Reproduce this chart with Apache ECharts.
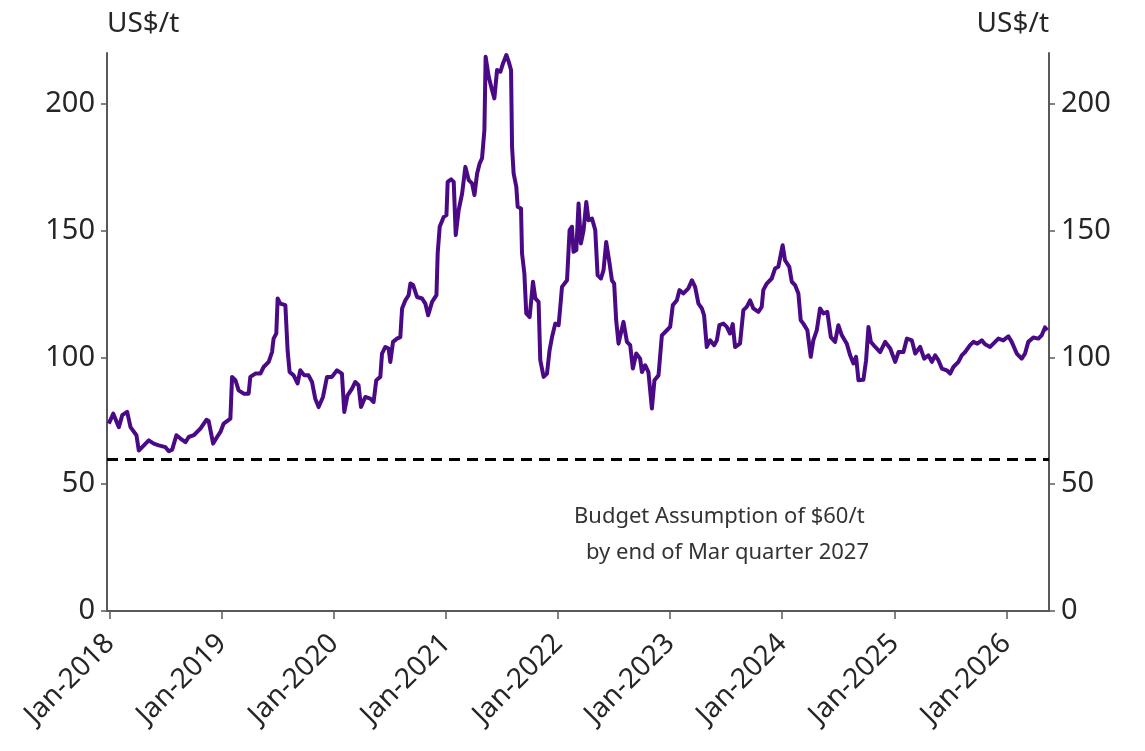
<!DOCTYPE html>
<html>
<head>
<meta charset="utf-8">
<script src="https://cdn.jsdelivr.net/npm/echarts@6/dist/echarts.min.js"></script>
<style>html,body{margin:0;padding:0;background:#fff}#c{width:1145px;height:751px}</style>
</head>
<body>
<div id="c"></div>
<script>
// Dates as decimal years
var dates = [
2017.989,2018.029,2018.079,2018.109,2018.153,2018.183,2018.236,2018.257,2018.287,2018.346,
2018.391,2018.435,2018.495,2018.525,2018.555,2018.593,2018.629,2018.674,2018.703,2018.748,
2018.807,2018.861,2018.881,2018.921,2018.956,2018.986,2019.015,2019.075,2019.090,2019.120,
2019.149,2019.194,2019.238,2019.253,2019.298,2019.343,2019.372,2019.417,2019.447,2019.461,
2019.485,2019.497,2019.521,2019.566,2019.586,2019.604,2019.640,2019.675,2019.699,2019.735,
2019.773,2019.804,2019.833,2019.863,2019.902,2019.938,2019.982,2020.027,2020.071,2020.092,
2020.121,2020.161,2020.190,2020.219,2020.241,2020.279,2020.324,2020.353,2020.377,2020.413,
2020.428,2020.458,2020.487,2020.502,2020.526,2020.562,2020.591,2020.607,2020.636,2020.665,
2020.681,2020.705,2020.740,2020.785,2020.814,2020.839,2020.874,2020.913,2020.924,2020.942,
2020.978,2021.002,2021.013,2021.044,2021.067,2021.085,2021.111,2021.142,2021.171,2021.201,
2021.231,2021.252,2021.276,2021.299,2021.320,2021.341,2021.352,2021.379,2021.409,2021.430,
2021.454,2021.484,2021.508,2021.537,2021.558,2021.579,2021.588,2021.602,2021.626,2021.638,
2021.668,2021.677,2021.698,2021.715,2021.745,2021.775,2021.796,2021.825,2021.840,2021.870,
2021.900,2021.923,2021.945,2021.974,2022.004,2022.019,2022.034,2022.079,2022.102,2022.123,
2022.137,2022.162,2022.182,2022.203,2022.227,2022.251,2022.271,2022.302,2022.331,2022.352,
2022.382,2022.405,2022.429,2022.459,2022.480,2022.500,2022.518,2022.539,2022.583,2022.614,
2022.643,2022.667,2022.697,2022.732,2022.748,2022.777,2022.806,2022.837,2022.860,2022.896,
2022.926,2022.971,2023.000,2023.024,2023.060,2023.083,2023.119,2023.163,2023.194,2023.223,
2023.253,2023.283,2023.303,2023.327,2023.357,2023.393,2023.417,2023.440,2023.476,2023.506,
2023.535,2023.559,2023.580,2023.624,2023.654,2023.684,2023.714,2023.743,2023.788,2023.818,
2023.832,2023.863,2023.907,2023.937,2023.966,2024.005,2024.026,2024.064,2024.086,2024.115,
2024.145,2024.166,2024.189,2024.225,2024.255,2024.278,2024.309,2024.338,2024.368,2024.403,
2024.434,2024.472,2024.501,2024.532,2024.576,2024.606,2024.635,2024.659,2024.680,2024.724,
2024.748,2024.769,2024.790,2024.829,2024.873,2024.918,2024.963,2025.007,2025.037,2025.081,
2025.112,2025.156,2025.186,2025.230,2025.266,2025.304,2025.335,2025.364,2025.393,2025.424,
2025.468,2025.498,2025.527,2025.572,2025.602,2025.632,2025.676,2025.706,2025.741,2025.781,
2025.810,2025.855,2025.884,2025.929,2025.973,2026.018,2026.048,2026.093,2026.137,2026.167,
2026.196,2026.241,2026.286,2026.316,2026.345,2026.366
];
// Price, US$/t
var prices = [
73.9,77.8,72.5,77.2,78.5,72.5,69.3,63.3,64.6,67.3,
66.0,65.3,64.6,63.0,63.6,69.3,68.0,66.6,68.6,69.3,
71.9,75.4,74.9,66.0,68.6,70.6,73.9,75.8,92.3,91.0,
87.0,85.7,85.7,92.3,93.6,93.6,96.2,98.2,102.1,107.4,
109.4,123.2,121.2,120.6,102.8,94.2,92.9,89.7,94.9,92.9,
92.9,90.3,83.7,80.4,84.4,92.3,92.3,94.9,93.6,78.5,
85.0,87.7,90.3,89.0,80.4,84.4,83.7,82.4,91.0,92.3,
101.5,104.1,103.5,98.2,106.1,107.4,108.0,119.3,122.5,124.5,
129.1,128.5,123.8,123.2,121.2,116.6,121.9,124.5,141.0,151.5,
155.4,156.1,169.2,170.2,169.2,148.2,158.0,164.6,175.1,169.9,
168.6,164.0,172.5,176.5,178.5,189.6,218.5,210.7,205.4,202.1,
213.3,212.6,216.0,219.2,216.6,213.3,183.0,172.5,167.2,159.4,
158.7,141.0,133.1,117.3,115.9,129.8,123.2,121.9,98.9,92.3,
93.6,102.8,108.0,113.3,112.7,120.0,127.8,130.4,150.2,151.5,
141.6,142.3,160.7,144.9,150.2,161.3,154.1,154.7,150.2,132.4,
131.1,134.4,145.5,137.0,130.4,129.1,114.6,105.4,114.0,106.1,
104.8,95.6,101.5,99.5,94.2,96.9,94.2,79.8,91.0,92.9,
108.7,110.7,112.0,120.6,122.5,126.5,125.2,127.2,130.4,127.8,
121.2,119.3,116.6,104.1,106.7,104.8,106.7,112.7,113.3,112.0,
109.4,113.1,104.1,105.4,118.6,119.9,122.5,119.3,117.9,119.9,
126.5,129.1,131.1,135.0,135.7,144.2,138.3,135.7,129.8,128.5,
125.2,114.6,113.3,110.7,100.2,106.7,110.7,119.3,117.3,117.9,
108.0,106.1,112.7,108.7,105.4,100.8,97.6,100.2,91.0,91.2,
98.9,112.0,106.1,104.1,102.1,106.1,103.5,98.2,102.1,102.1,
107.4,106.7,101.5,104.1,99.5,100.8,98.2,100.8,98.9,95.6,
94.9,93.6,96.2,98.2,100.8,102.1,104.8,106.1,105.4,106.7,
105.2,104.1,105.4,107.4,106.7,108.3,106.1,101.5,99.5,101.5,
106.1,107.8,107.4,108.7,111.8,110.7
];
var budgetLevel = 60;
var yTicks = [0, 50, 100, 150, 200];
var axisRange = [2017.973, 2026.381];
var unitLabel = 'US$/t';
var noteLines = ['Budget Assumption of $60/t', 'by end of Mar quarter 2027'];
var monthNames = ['Jan','Feb','Mar','Apr','May','Jun','Jul','Aug','Sep','Oct','Nov','Dec'];

function toTs(d) {
  var y = Math.floor(d);
  var a = Date.UTC(y, 0, 1), b = Date.UTC(y + 1, 0, 1);
  return a + (d - y) * (b - a);
}
var seriesData = dates.map(function (d, i) { return [toTs(d), prices[i]]; });

var FONT = 'Noto Sans';
var TXT = '#262626';
var AX = '#595959';
var YEAR = 365.25 * 24 * 3600 * 1000;

var chart = echarts.init(document.getElementById('c'));
function yAxisCfg(pos) {
  return {
    type: 'value', position: pos, min: 0, max: 220, interval: 50,
    name: unitLabel, nameLocation: 'end', nameGap: 29,
    nameTextStyle: { fontFamily: FONT, fontSize: 28, color: TXT, align: pos === 'left' ? 'left' : 'right', verticalAlign: 'middle' },
    axisLine: { show: true, lineStyle: { color: AX, width: 2 } },
    axisTick: { show: true, length: 6, lineStyle: { color: AX, width: 1.5 }, customValues: yTicks },
    axisLabel: { fontFamily: FONT, fontSize: 29, color: TXT, margin: 12, customValues: yTicks },
    splitLine: { show: false }
  };
}
chart.setOption({
  animation: false,
  backgroundColor: '#ffffff',
  grid: { left: 107, right: 96, top: 53, bottom: 140, containLabel: false },
  xAxis: {
    type: 'time', min: toTs(axisRange[0]), max: toTs(axisRange[1]),
    minInterval: YEAR * 0.99, maxInterval: YEAR * 1.01,
    axisLine: { show: true, onZero: false, lineStyle: { color: AX, width: 2 } },
    axisTick: { show: true, length: 8, lineStyle: { color: AX, width: 1.5 } },
    axisLabel: {
      fontFamily: FONT, fontSize: 28, color: TXT, rotate: 45, margin: 28,
      showMinLabel: false, showMaxLabel: false, hideOverlap: false,
      formatter: function (v) { var d = new Date(v); return monthNames[d.getUTCMonth()] + '-' + d.getUTCFullYear(); }
    },
    splitLine: { show: false }
  },
  yAxis: [yAxisCfg('left'), yAxisCfg('right')],
  series: [{
    type: 'line', data: seriesData, showSymbol: false, symbol: 'none',
    lineStyle: { color: '#4A0A85', width: 4, join: 'round' },
    markLine: {
      silent: true, symbol: ['none', 'none'], label: { show: false },
      lineStyle: { color: '#000', width: 3, type: [11, 7] },
      data: [{ yAxis: budgetLevel }]
    }
  }],
  graphic: [
    { type: 'text', left: 574, top: 506, style: { text: noteLines[0], fontFamily: FONT, fontSize: 22, fill: '#333' } },
    { type: 'text', left: 586, top: 542, style: { text: noteLines[1], fontFamily: FONT, fontSize: 22, fill: '#333' } }
  ]
});
</script>
</body>
</html>
